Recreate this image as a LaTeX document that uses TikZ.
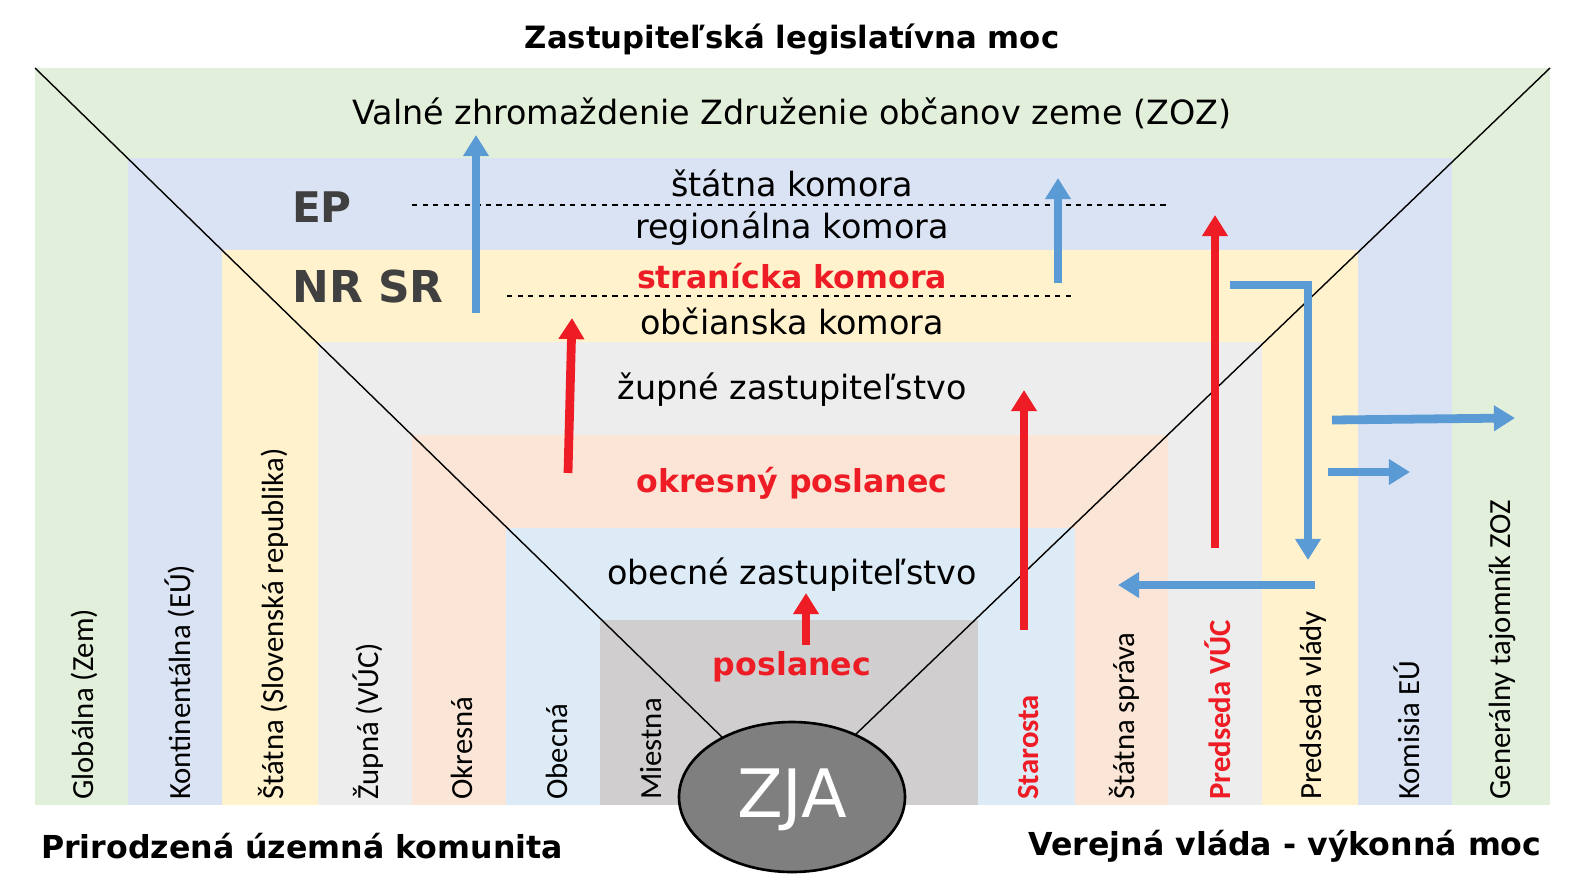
\documentclass[tikz,border=0pt]{standalone}
\usepackage{fontspec}
\usetikzlibrary{arrows.meta}
\setmainfont{DejaVu Sans}
\newfontfamily\narrow{Carlito}
\definecolor{bl}{HTML}{5B9BD5}\definecolor{rd}{HTML}{EE1C25}
\definecolor{c1}{RGB}{226,239,218}\definecolor{c2}{RGB}{218,227,243}
\definecolor{c3}{RGB}{255,242,204}\definecolor{c4}{RGB}{237,237,237}
\definecolor{c5}{RGB}{251,229,214}\definecolor{c6}{RGB}{221,235,247}
\definecolor{c7}{RGB}{208,206,206}\definecolor{zg}{RGB}{127,127,127}
\definecolor{dg}{RGB}{64,64,64}
\begin{document}
\begin{tikzpicture}[x=0.02cm,y=-0.02cm,
  vl/.style={rotate=90,anchor=west,font=\narrow\fontsize{17.5}{20}\selectfont,inner sep=0pt},
  vr/.style={vl,text=rd,font=\narrow\bfseries\fontsize{17.5}{20}\selectfont},
  ht/.style={font=\fontsize{19}{22}\selectfont},
  hr/.style={text=rd,font=\bfseries\fontsize{18}{22}\selectfont},
  hb/.style={font=\bfseries\fontsize{18}{22}\selectfont},
  ba/.style={-{Triangle[length=12pt,width=14pt]},line width=5pt,color=bl},
  ra/.style={-{Triangle[length=12pt,width=14pt]},line width=5pt,color=rd}]
\useasboundingbox (0,0) rectangle (1575,886);
\fill[white] (0,0) rectangle (1575,886);
\fill[c1] (35,68) rectangle (1550,805);
\fill[c2] (128,158) rectangle (1452,805);
\fill[c3] (222,250) rectangle (1358,805);
\fill[c4] (318,342) rectangle (1262,805);
\fill[c5] (412,435) rectangle (1168,805);
\fill[c6] (506,528) rectangle (1075,805);
\fill[c7] (600,620) rectangle (978,805);
\draw[line width=0.8pt] (35,68) -- (725,740);
\draw[line width=0.8pt] (1550,68) -- (855,735);
\filldraw[fill=zg,draw=black,line width=1.5pt] (792,797) ellipse [x radius=113,y radius=75];
\node[white,font=\fontsize{38}{40}\selectfont] (zja) at (792,800) {ZJA};
\node[font=\bfseries\fontsize{17.5}{20}\selectfont] (t) at (792,40) {Zastupiteľská legislatívna moc};
\node[hb] (bl1) at (302,846) {Prirodzená územná komunita};
\node[hb] (br1) at (1285,846) {Verejná vláda - výkonná moc};
\node[ht] (v) at (792,113) {Valné zhromaždenie Združenie občanov zeme (ZOZ)};
\node[ht] (s1) at (792,183) {štátna komora};
\node[ht] (s2) at (792,229) {regionálna komora};
\node[hr] (s3) at (792,276) {stranícka komora};
\node[ht] (s4) at (792,321) {občianska komora};
\node[ht] (s5) at (792,390) {župné zastupiteľstvo};
\node[hr] (s6) at (792,483) {okresný poslanec};
\node[ht] (s7) at (792,575) {obecné zastupiteľstvo};
\node[hr] (s8) at (792,667) {poslanec};
\node[font=\bfseries\fontsize{24}{26}\selectfont,text=dg] (ep) at (322,207) {EP};
\node[font=\bfseries\fontsize{25}{27}\selectfont,text=dg] (nr) at (368,287) {NR SR};
\draw[dashed,line width=1pt] (412,205) -- (1170,205);
\draw[dashed,line width=1pt] (507,296) -- (1075,296);
\node[vl] at (84,800) {Globálna (Zem)};
\node[vl] at (180,800) {Kontinentálna (EÚ)};
\node[vl] at (273,800) {Štátna (Slovenská republika)};
\node[vl] at (368,800) {Župná (VÚC)};
\node[vl] at (462,800) {Okresná};
\node[vl] at (557,800) {Obecná};
\node[vl] at (651,800) {Miestna};
\node[vr] at (1029,800) {Starosta};
\node[vl] at (1124,800) {Štátna správa};
\node[vr] at (1218,800) {Predseda VÚC};
\node[vl] at (1313,800) {Predseda vlády};
\node[vl] at (1407,800) {Komisia EÚ};
\node[vl] at (1502,800) {Generálny tajomník ZOZ};
\draw[ba] (476,313) -- (476,135);
\draw[ba] (1058,283) -- (1058,178);
\draw[ra] (1215,548) -- (1215,215);
\draw[ra] (568,473) -- (572,318);
\draw[ra] (1024,630) -- (1024,390);
\draw[ra] (806,645) -- (806,593);
\draw[ba] (1230,285) -- (1308,285) -- (1308,560);
\draw[ba] (1315,585) -- (1118,585);
\draw[ba] (1332,420) -- (1515,418);
\draw[ba] (1328,472) -- (1410,472);
\end{tikzpicture}
\end{document}
